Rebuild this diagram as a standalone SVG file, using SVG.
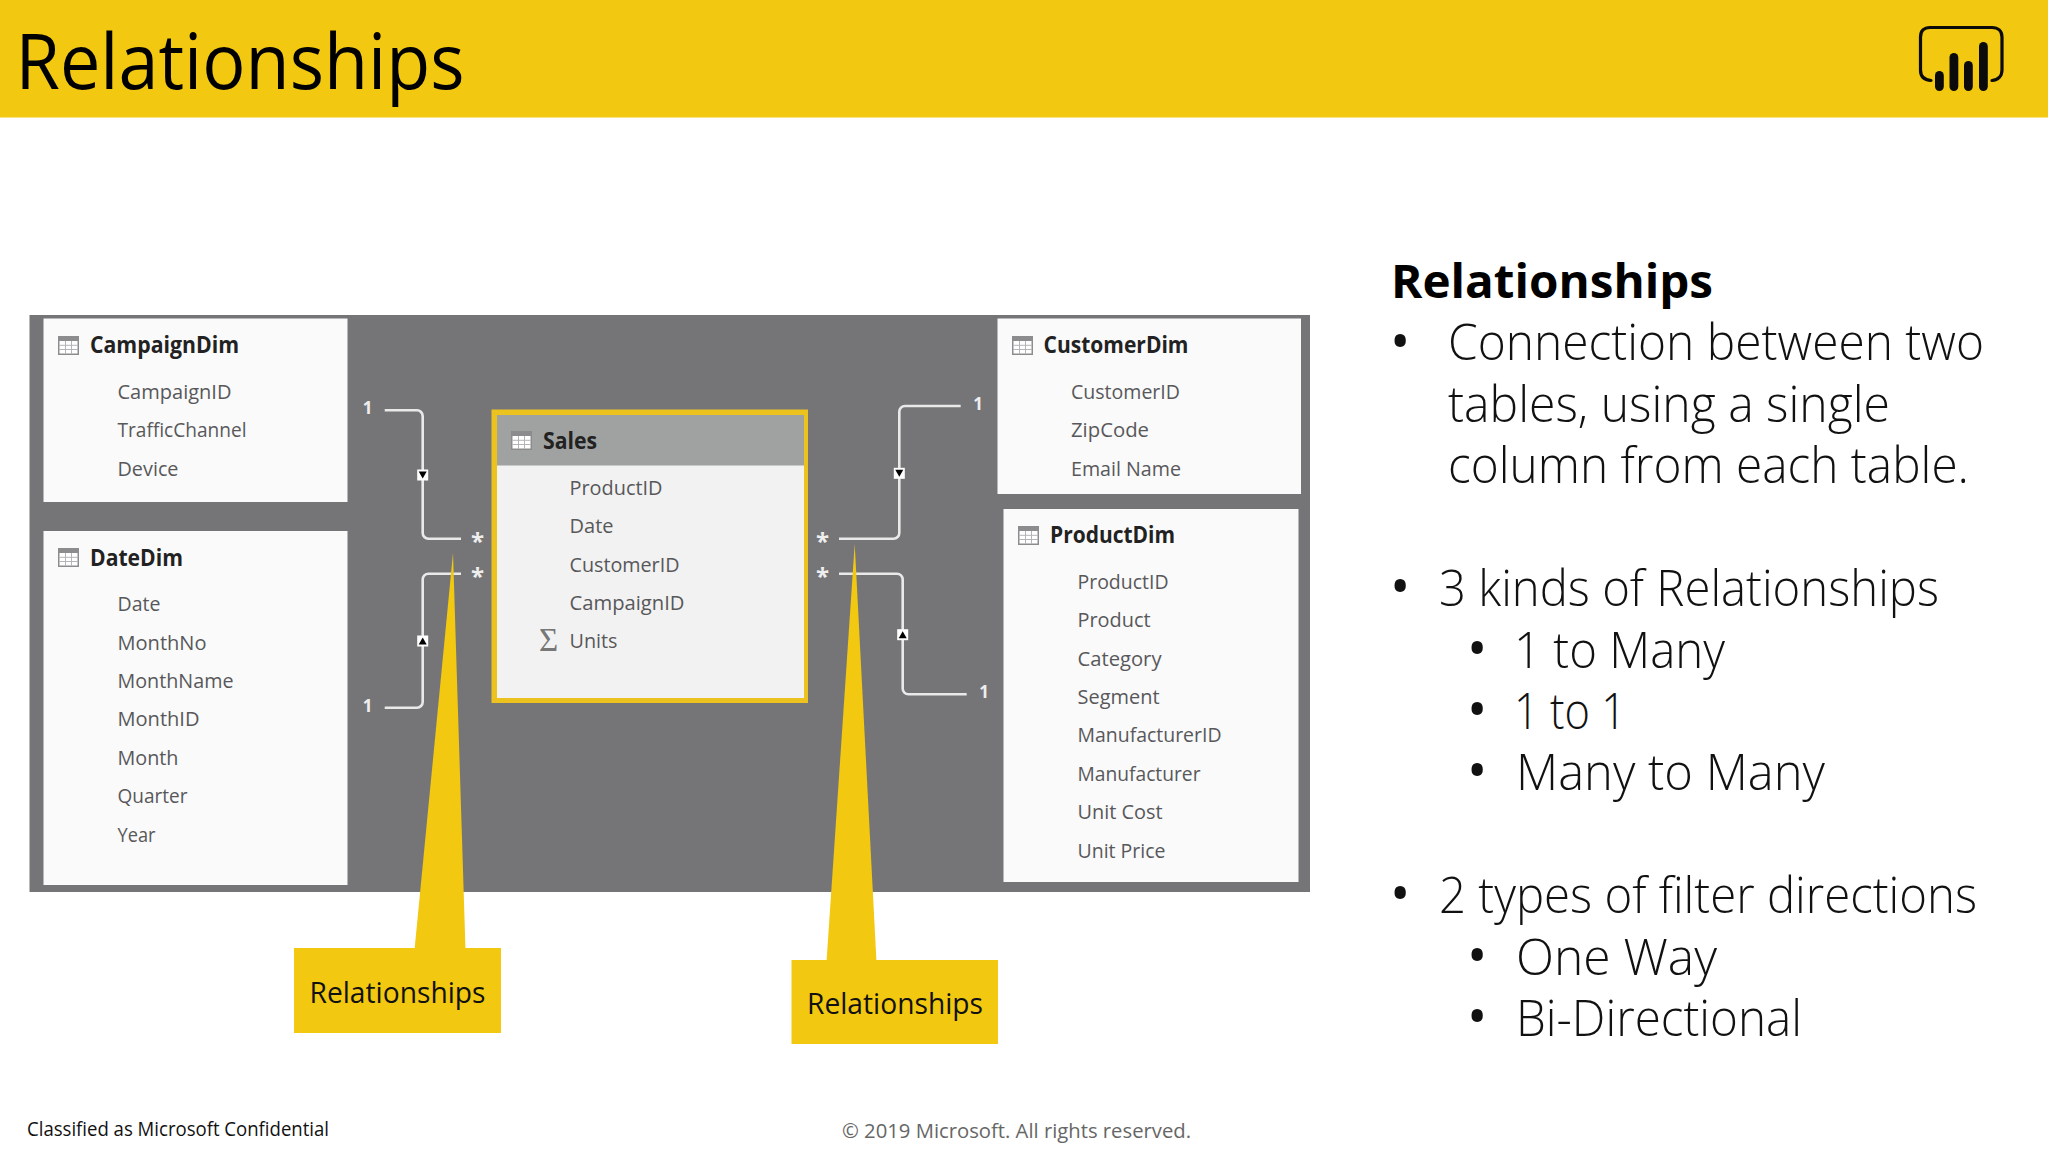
<svg xmlns="http://www.w3.org/2000/svg" xmlns:xlink="http://www.w3.org/1999/xlink" width="2048" height="1152" viewBox="0 0 2048 1152">
<style>
text{font-family:"Open Sans","Noto Sans","Liberation Sans",sans-serif}
.card{fill:#fafafb}
.tt{font-size:22.5px;font-weight:700;fill:#222}
.f{font-size:20.5px;fill:#58585a}
.co{fill:none;stroke:#e9e9e9;stroke-width:2.6}
.n{font-size:17px;font-weight:700;fill:#eee;text-anchor:middle}
.st{font-size:24px;font-weight:700;fill:#eee;text-anchor:middle}
.cal{fill:#f2c811}
.cl{font-size:30px;fill:#111}
.b{font-size:50px;font-weight:300;fill:#111}
.bu{font-size:54px;fill:#111}
</style>
<defs>
<g id="grid">
<rect x="0" y="0" width="21" height="19" fill="#8c8c8e"/>
<rect x="1.500" y="5" width="18" height="12.500" fill="#fff"/>
<path d="M7.500 5v13M13.500 5v13M1 9.300h19M1 13.500h19" stroke="#b5b5b7" stroke-width="1" fill="none"/>
</g>
<g id="mk-d"><rect x="-5.500" y="-5.500" width="11" height="11" fill="#fff"/><path d="M-4 -3.500H4L0 3.500Z" fill="#000"/></g>
<g id="mk-u"><rect x="-5.500" y="-5.500" width="11" height="11" fill="#fff"/><path d="M-4 3.500H4L0 -3.500Z" fill="#000"/></g>
</defs>
<rect width="2048" height="1152" fill="#fff"/>
<rect id="header" width="2048" height="117.500" fill="#f2c811"/>
<text x="15.500" y="89" font-size="76" fill="#000" textLength="449" lengthAdjust="spacingAndGlyphs">Relationships</text>
<g id="logo">
<path d="M1931 80.500C1924 80 1920.500 76 1920.500 70V37C1920.500 31 1924 27.500 1930 27.500H1992C1998 27.500 2002 31 2002 37V70C2002 76 1998 80 1992 80.500" fill="none" stroke="#0b0b0b" stroke-width="3.200" stroke-linecap="round"/>
<rect x="1935" y="71" width="8.800" height="20" rx="4.400" fill="#0b0b0b"/>
<rect x="1949.500" y="53" width="8.800" height="38" rx="4.400" fill="#0b0b0b"/>
<rect x="1964" y="61" width="8.800" height="30" rx="4.400" fill="#0b0b0b"/>
<rect x="1979" y="42" width="8.800" height="49" rx="4.400" fill="#0b0b0b"/>
</g>
<rect id="panel" x="29.500" y="315" width="1280.500" height="577" fill="#757577"/>
<g id="CampaignDim">
<rect class="card" x="43.500" y="318.500" width="304" height="183.500"/>
<use xlink:href="#grid" x="58" y="336"/>
<text class="tt" x="90" y="353" textLength="149" lengthAdjust="spacingAndGlyphs">CampaignDim</text>
<text class="f" x="117.500" y="399" textLength="114" lengthAdjust="spacingAndGlyphs">CampaignID</text>
<text class="f" x="117.500" y="437" textLength="129" lengthAdjust="spacingAndGlyphs">TrafficChannel</text>
<text class="f" x="117.500" y="476" textLength="61" lengthAdjust="spacingAndGlyphs">Device</text>
</g>
<g id="DateDim">
<rect class="card" x="43.500" y="531" width="304" height="354"/>
<use xlink:href="#grid" x="58" y="548"/>
<text class="tt" x="90" y="566" textLength="93" lengthAdjust="spacingAndGlyphs">DateDim</text>
<text class="f" x="117.500" y="611" textLength="43" lengthAdjust="spacingAndGlyphs">Date</text>
<text class="f" x="117.500" y="649.500" textLength="89" lengthAdjust="spacingAndGlyphs">MonthNo</text>
<text class="f" x="117.500" y="688" textLength="116" lengthAdjust="spacingAndGlyphs">MonthName</text>
<text class="f" x="117.500" y="726" textLength="82" lengthAdjust="spacingAndGlyphs">MonthID</text>
<text class="f" x="117.500" y="765" textLength="61" lengthAdjust="spacingAndGlyphs">Month</text>
<text class="f" x="117.500" y="803" textLength="70" lengthAdjust="spacingAndGlyphs">Quarter</text>
<text class="f" x="117.500" y="842" textLength="38" lengthAdjust="spacingAndGlyphs">Year</text>
</g>
<g id="Sales">
<rect x="491.500" y="409.500" width="316.500" height="293.500" fill="#ecc31e"/>
<rect x="497" y="415" width="307" height="283" fill="#f2f2f2"/>
<rect x="497" y="415" width="307" height="50.500" fill="#a0a1a1"/>
<use xlink:href="#grid" x="511" y="431"/>
<text class="tt" x="543" y="449" textLength="54" lengthAdjust="spacingAndGlyphs">Sales</text>
<text class="f" x="569.500" y="495" textLength="93" lengthAdjust="spacingAndGlyphs">ProductID</text>
<text class="f" x="569.500" y="533" textLength="44" lengthAdjust="spacingAndGlyphs">Date</text>
<text class="f" x="569.500" y="571.500" textLength="110" lengthAdjust="spacingAndGlyphs">CustomerID</text>
<text class="f" x="569.500" y="610" textLength="115" lengthAdjust="spacingAndGlyphs">CampaignID</text>
<text x="539" y="651" style="font-family:'Liberation Serif',serif;font-size:33px;fill:#777">Σ</text>
<text class="f" x="569.500" y="648" textLength="48" lengthAdjust="spacingAndGlyphs">Units</text>
</g>
<g id="CustomerDim">
<rect class="card" x="997.500" y="318.500" width="303.500" height="175.500"/>
<use xlink:href="#grid" x="1012" y="336"/>
<text class="tt" x="1043.500" y="353" textLength="145" lengthAdjust="spacingAndGlyphs">CustomerDim</text>
<text class="f" x="1071" y="399" textLength="109" lengthAdjust="spacingAndGlyphs">CustomerID</text>
<text class="f" x="1071" y="437" textLength="78" lengthAdjust="spacingAndGlyphs">ZipCode</text>
<text class="f" x="1071" y="476" textLength="110" lengthAdjust="spacingAndGlyphs">Email Name</text>
</g>
<g id="ProductDim">
<rect class="card" x="1003.500" y="509" width="295" height="373"/>
<use xlink:href="#grid" x="1018" y="526"/>
<text class="tt" x="1050" y="543" textLength="125" lengthAdjust="spacingAndGlyphs">ProductDim</text>
<text class="f" x="1077.500" y="589" textLength="91" lengthAdjust="spacingAndGlyphs">ProductID</text>
<text class="f" x="1077.500" y="627" textLength="73" lengthAdjust="spacingAndGlyphs">Product</text>
<text class="f" x="1077.500" y="665.500" textLength="84" lengthAdjust="spacingAndGlyphs">Category</text>
<text class="f" x="1077.500" y="704" textLength="82" lengthAdjust="spacingAndGlyphs">Segment</text>
<text class="f" x="1077.500" y="742" textLength="144" lengthAdjust="spacingAndGlyphs">ManufacturerID</text>
<text class="f" x="1077.500" y="781" textLength="123" lengthAdjust="spacingAndGlyphs">Manufacturer</text>
<text class="f" x="1077.500" y="819" textLength="85" lengthAdjust="spacingAndGlyphs">Unit Cost</text>
<text class="f" x="1077.500" y="858" textLength="88" lengthAdjust="spacingAndGlyphs">Unit Price</text>
</g>
<g id="connectors">
<path class="co" d="M384.700 410.300H417a5.700 5.700 0 0 1 5.700 5.700V533a5.700 5.700 0 0 0 5.700 5.700H461"/>
<path class="co" d="M384.700 707.700H417a5.700 5.700 0 0 0 5.700-5.700V579.400a5.700 5.700 0 0 1 5.700-5.700H461"/>
<path class="co" d="M839 538.700H893.600a5.700 5.700 0 0 0 5.700-5.700V411.700a5.700 5.700 0 0 1 5.700-5.700H960.700"/>
<path class="co" d="M839 573.700H897a5.700 5.700 0 0 1 5.700 5.700V688.600a5.700 5.700 0 0 0 5.700 5.700H966.700"/>
<use xlink:href="#mk-d" x="422.700" y="475"/>
<use xlink:href="#mk-u" x="422.700" y="641"/>
<use xlink:href="#mk-d" x="899.300" y="473.300"/>
<use xlink:href="#mk-u" x="902.700" y="634.700"/>
<text class="n" x="367.500" y="414">1</text>
<text class="n" x="367.500" y="712">1</text>
<text class="n" x="978" y="410">1</text>
<text class="n" x="984" y="698">1</text>
<text class="st" x="477.500" y="549.500">*</text>
<text class="st" x="477.500" y="584.500">*</text>
<text class="st" x="822.500" y="549.500">*</text>
<text class="st" x="822.500" y="584.500">*</text>
</g>
<g id="callout-left">
<path class="cal" d="M453 553L414.500 950H465.500Z"/>
<rect class="cal" x="294" y="948" width="207" height="85"/>
<text class="cl" x="309.500" y="1003" textLength="176" lengthAdjust="spacingAndGlyphs">Relationships</text>
</g>
<g id="callout-right">
<path class="cal" d="M854.700 544L826.500 962H876.500Z"/>
<rect class="cal" x="791.500" y="960" width="206.500" height="84"/>
<text class="cl" x="807" y="1013.500" textLength="176" lengthAdjust="spacingAndGlyphs">Relationships</text>
</g>
<g id="text-right">
<text x="1391" y="297.500" font-size="47" font-weight="700" fill="#000" textLength="322" lengthAdjust="spacingAndGlyphs">Relationships</text>
<text class="bu" x="1390" y="361">•</text>
<text class="b" x="1448" y="360" textLength="536" lengthAdjust="spacingAndGlyphs">Connection between two</text>
<text class="b" x="1448" y="422" textLength="442" lengthAdjust="spacingAndGlyphs">tables, using a single</text>
<text class="b" x="1448" y="483" textLength="521" lengthAdjust="spacingAndGlyphs">column from each table.</text>
<text class="bu" x="1390" y="606">•</text>
<text class="b" x="1439" y="606" textLength="500" lengthAdjust="spacingAndGlyphs">3 kinds of Relationships</text>
<text class="bu" x="1467" y="668">•</text>
<text class="b" x="1514" y="668" textLength="211" lengthAdjust="spacingAndGlyphs">1 to Many</text>
<text class="bu" x="1467" y="729">•</text>
<text class="b" x="1514" y="729" textLength="112" lengthAdjust="spacingAndGlyphs">1 to 1</text>
<text class="bu" x="1467" y="790">•</text>
<text class="b" x="1516" y="790" textLength="309" lengthAdjust="spacingAndGlyphs">Many to Many</text>
<text class="bu" x="1390" y="913">•</text>
<text class="b" x="1439" y="913" textLength="538" lengthAdjust="spacingAndGlyphs">2 types of filter directions</text>
<text class="bu" x="1467" y="975">•</text>
<text class="b" x="1516" y="975" textLength="201" lengthAdjust="spacingAndGlyphs">One Way</text>
<text class="bu" x="1467" y="1036">•</text>
<text class="b" x="1516" y="1036" textLength="286" lengthAdjust="spacingAndGlyphs">Bi-Directional</text>
</g>
<text x="27" y="1136" font-size="19.500" fill="#111" textLength="302" lengthAdjust="spacingAndGlyphs">Classified as Microsoft Confidential</text>
<text x="842" y="1138" font-size="20.500" fill="#666" textLength="349" lengthAdjust="spacingAndGlyphs">© 2019 Microsoft. All rights reserved.</text>
</svg>
